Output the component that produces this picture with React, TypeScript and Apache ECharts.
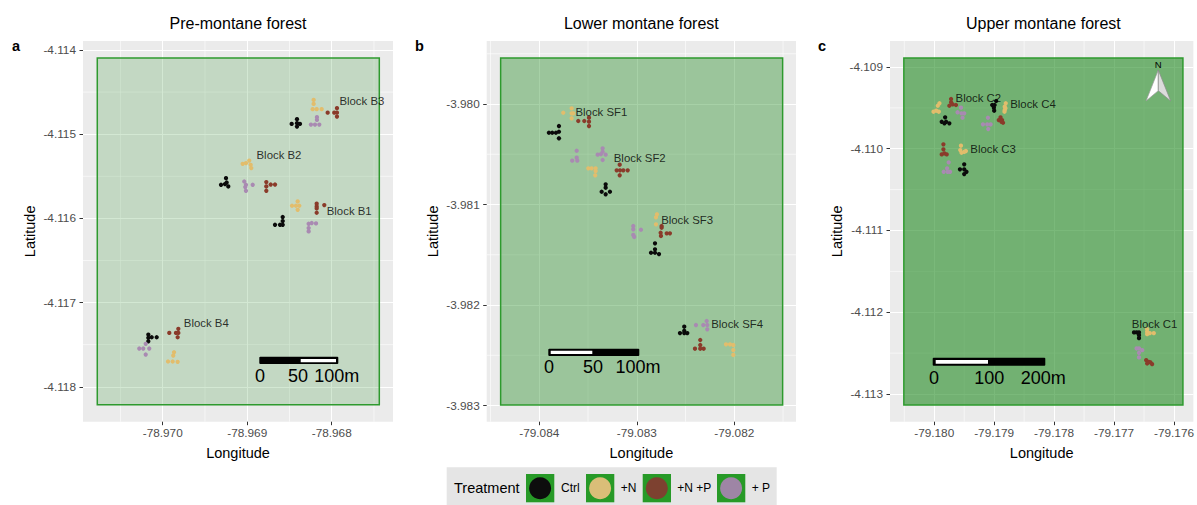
import React, { useEffect, useRef } from "react";
import * as echarts from "echarts";

const FONT = "Liberation Sans";
const treatmentNames = ["Ctrl", "+N", "+N +P", "+ P"];
const pointColors = ["#0a0a0a", "#e2bd6c", "#8a3b2a", "#a98ab2"];
const legendColors = ["#0d0d0d", "#dabe78", "#7d4130", "#9e85a5"];
const panelTitles = ["Pre-montane forest", "Lower montane forest", "Upper montane forest"];
const panelLetters = ["a", "b", "c"];

// Panel a
const aCtrl = [
  [-78.968474, -4.114878], [-78.968411, -4.114822], [-78.968411, -4.114869], [-78.968376, -4.114878], [-78.968411, -4.11491],
  [-78.96931, -4.115601], [-78.969263, -4.115593], [-78.969251, -4.115522], [-78.969243, -4.115574], [-78.969224, -4.115621],
  [-78.968671, -4.116076], [-78.968612, -4.116076], [-78.96858, -4.115984], [-78.96858, -4.116032], [-78.96858, -4.116076],
  [-78.97017, -4.11738], [-78.97017, -4.117419], [-78.97017, -4.11746], [-78.97013, -4.117412], [-78.970071, -4.117412],
];
const aN = [
  [-78.968214, -4.114593], [-78.968214, -4.11464], [-78.968225, -4.114703], [-78.968178, -4.114703], [-78.968119, -4.114703],
  [-78.969054, -4.115352], [-78.969015, -4.115344], [-78.968976, -4.115313], [-78.968959, -4.115364], [-78.968952, -4.115403],
  [-78.96847, -4.11585], [-78.968423, -4.11585], [-78.968403, -4.115799], [-78.968384, -4.11585], [-78.968403, -4.115898],
  [-78.969866, -4.11759], [-78.969875, -4.117629], [-78.969937, -4.1177], [-78.969882, -4.1177], [-78.969823, -4.117704],
];
const aNP = [
  [-78.968048, -4.114744], [-78.96797, -4.114744], [-78.967938, -4.114691], [-78.967938, -4.114744], [-78.967938, -4.114791],
  [-78.968774, -4.115569], [-78.968774, -4.115621], [-78.968774, -4.115672], [-78.968722, -4.115598], [-78.968671, -4.115598],
  [-78.968178, -4.115826], [-78.968178, -4.115858], [-78.968178, -4.115933], [-78.968088, -4.115842], [-78.968178, -4.115882],
  [-78.969922, -4.11736], [-78.969843, -4.11736], [-78.969815, -4.117312], [-78.969815, -4.11736], [-78.969823, -4.117412],
];
const aP = [
  [-78.968175, -4.114798], [-78.968175, -4.11483], [-78.968246, -4.114886], [-78.968198, -4.114886], [-78.968147, -4.114886],
  [-78.969035, -4.115562], [-78.969015, -4.115601], [-78.969015, -4.115672], [-78.968935, -4.115601], [-78.969023, -4.115628],
  [-78.968273, -4.116064], [-78.968273, -4.116115], [-78.968273, -4.116155], [-78.968237, -4.116055], [-78.968186, -4.11606],
  [-78.970277, -4.117546], [-78.97023, -4.117546], [-78.970201, -4.11749], [-78.970159, -4.117546], [-78.970201, -4.117617],
];
const aBlocks = [
  ["Block B3", -78.967915, -4.114601], ["Block B2", -78.968896, -4.115242],
  ["Block B1", -78.968065, -4.115918], ["Block B4", -78.969756, -4.117241],
];

// Panel b
const bCtrl = [
  [-79.083901, -3.980286], [-79.083867, -3.980286], [-79.083829, -3.980286], [-79.083798, -3.980219], [-79.083798, -3.980276], [-79.083798, -3.980341],
  [-79.083319, -3.980799], [-79.083319, -3.980833], [-79.08336, -3.980873], [-79.083319, -3.980898], [-79.083275, -3.980873],
  [-79.082813, -3.981386], [-79.082813, -3.981446], [-79.082854, -3.98148], [-79.082813, -3.98148], [-79.082772, -3.981493],
  [-79.082513, -3.982216], [-79.082513, -3.982256], [-79.082557, -3.982279], [-79.082513, -3.982279], [-79.082482, -3.982279],
];
const bN = [
  [-79.083754, -3.980087], [-79.083668, -3.980043], [-79.083668, -3.980093], [-79.083651, -3.980093], [-79.083668, -3.980142],
  [-79.083497, -3.98064], [-79.083463, -3.98064], [-79.083422, -3.98064], [-79.083422, -3.980667], [-79.083426, -3.980709],
  [-79.082793, -3.981097], [-79.082803, -3.981127], [-79.082803, -3.981197],
  [-79.082085, -3.982391], [-79.082044, -3.982391], [-79.08201, -3.982398], [-79.08201, -3.982448], [-79.08201, -3.982497],
];
const bNP = [
  [-79.0836, -3.980169], [-79.083538, -3.980169], [-79.08349, -3.980136], [-79.08349, -3.980176], [-79.08349, -3.980219],
  [-79.083175, -3.980604], [-79.083206, -3.98066], [-79.083172, -3.98066], [-79.083138, -3.98066], [-79.083093, -3.98066], [-79.083175, -3.980709],
  [-79.082745, -3.981214], [-79.082745, -3.981231], [-79.082755, -3.981281], [-79.082752, -3.981313], [-79.082693, -3.981287], [-79.08266, -3.981287],
  [-79.082349, -3.982348], [-79.082349, -3.982398], [-79.082403, -3.982435], [-79.082349, -3.982435], [-79.082314, -3.982435],
];
const bP = [
  [-79.08335, -3.980441], [-79.08335, -3.980475], [-79.083401, -3.980504], [-79.083367, -3.980498], [-79.083319, -3.980504], [-79.08335, -3.980557],
  [-79.083616, -3.980465], [-79.083616, -3.980534], [-79.08361, -3.980564], [-79.083662, -3.980564],
  [-79.083036, -3.981214], [-79.083036, -3.981247], [-79.083036, -3.981303], [-79.083026, -3.981323], [-79.082957, -3.981251],
  [-79.082393, -3.982199], [-79.082318, -3.982199], [-79.082283, -3.982159], [-79.082277, -3.982199], [-79.082277, -3.982242],
];
const bBlocks = [
  ["Block SF1", -79.083634, -3.98008], ["Block SF2", -79.083241, -3.980534],
  ["Block SF3", -79.082755, -3.981154], ["Block SF4", -79.082242, -3.982192],
];

// Panel c
const cCtrl = [
  [-79.179818, -4.109616], [-79.179875, -4.10967], [-79.17983, -4.109689], [-79.179802, -4.10967], [-79.179748, -4.109689],
  [-79.178967, -4.109416], [-79.179033, -4.109465], [-79.178993, -4.109465], [-79.179005, -4.109498], [-79.179, -4.109535],
  [-79.1795, -4.110191], [-79.179571, -4.110252], [-79.1795, -4.110252], [-79.179462, -4.110282], [-79.1795, -4.11031],
  [-79.176667, -4.112247], [-79.176624, -4.112247], [-79.176584, -4.112247], [-79.176584, -4.11228], [-79.176584, -4.112317],
];
const cN = [
  [-79.179913, -4.109444], [-79.179941, -4.109474], [-79.180012, -4.109547], [-79.179967, -4.109535], [-79.179924, -4.109547],
  [-79.178807, -4.109444], [-79.178824, -4.109486], [-79.178824, -4.109526], [-79.178828, -4.109547], [-79.178812, -4.109506],
  [-79.179554, -4.109963], [-79.179566, -4.110016], [-79.179545, -4.110049], [-79.1795, -4.110037], [-79.179472, -4.110028],
  [-79.176448, -4.112207], [-79.176448, -4.11224], [-79.176448, -4.112268], [-79.176403, -4.112256], [-79.176337, -4.112256],
];
const cNP = [
  [-79.179719, -4.109392], [-79.179719, -4.109432], [-79.179748, -4.109474], [-79.179693, -4.109457], [-79.179637, -4.109465],
  [-79.178894, -4.109616], [-79.178923, -4.109649], [-79.178868, -4.109649], [-79.178852, -4.109682], [-79.178878, -4.10967],
  [-79.179847, -4.109946], [-79.179847, -4.110007], [-79.179875, -4.110069], [-79.17983, -4.110056], [-79.179792, -4.110069],
  [-79.176464, -4.112586], [-79.176419, -4.112607], [-79.176393, -4.112614], [-79.176448, -4.112627], [-79.176365, -4.112635],
];
const cP = [
  [-79.179554, -4.109498], [-79.179611, -4.109554], [-79.179545, -4.109567], [-79.1795, -4.109567], [-79.179528, -4.109621],
  [-79.179104, -4.109621], [-79.179187, -4.109701], [-79.179116, -4.109701], [-79.179059, -4.109701], [-79.179099, -4.109759],
  [-79.179759, -4.110166], [-79.179785, -4.11024], [-79.179842, -4.110282], [-79.179776, -4.110282], [-79.179736, -4.110282],
  [-79.176624, -4.112443], [-79.176584, -4.112443], [-79.17653, -4.112464], [-79.176584, -4.112497], [-79.176584, -4.112553],
];
const cBlocks = [
  ["Block C2", -79.179653, -4.109376], ["Block C4", -79.178741, -4.109453],
  ["Block C3", -79.179406, -4.110007], ["Block C1", -79.176712, -4.112149],
];

// Axis ticks and extents
const aLonTicks = [-78.97, -78.969, -78.968];
const aLatTicks = [-4.114, -4.115, -4.116, -4.117, -4.118];
const aLonMinor = [-78.9705, -78.9695, -78.9685, -78.9675];
const aLatMinor = [-4.1145, -4.1155, -4.1165, -4.1175];
const bLonTicks = [-79.084, -79.083, -79.082];
const bLatTicks = [-3.98, -3.981, -3.982, -3.983];
const bLonMinor = [-79.0845, -79.0835, -79.0825, -79.0815];
const bLatMinor = [-3.9795, -3.9805, -3.9815, -3.9825];
const cLonTicks = [-79.18, -79.179, -79.178, -79.177, -79.176];
const cLatTicks = [-4.109, -4.11, -4.111, -4.112, -4.113];
const cLonMinor = [-79.1805, -79.1795, -79.1785, -79.1775, -79.1765];
const cLatMinor = [-4.1095, -4.1105, -4.1115, -4.1125];

const aExtent = [-78.970943, -78.967275, -4.118415, -4.113893];
const bExtent = [-79.084539, -79.081367, -3.983161, -3.979373];
const cExtent = [-79.180738, -79.175677, -4.113339, -4.108682];
const aPlot = [-78.970774, -4.114095, -78.967437, -4.118214];
const bPlot = [-79.084396, -3.979542, -79.081504, -3.982995];
const cPlot = [-79.180507, -4.10889, -79.175851, -4.113135];
const plotAlpha = [0.2, 0.4, 0.6];

const gridBoxes = [
  { left: 83, top: 41, width: 310, height: 380.7 },
  { left: 486.7, top: 41, width: 309.3, height: 380.7 },
  { left: 890, top: 41, width: 306.7, height: 380.7 },
];

const panels = [
  { ext: aExtent, plot: aPlot, lonT: aLonTicks, latT: aLatTicks, lonM: aLonMinor, latM: aLatMinor, pts: [aCtrl, aN, aNP, aP], blocks: aBlocks },
  { ext: bExtent, plot: bPlot, lonT: bLonTicks, latT: bLatTicks, lonM: bLonMinor, latM: bLatMinor, pts: [bCtrl, bN, bNP, bP], blocks: bBlocks },
  { ext: cExtent, plot: cPlot, lonT: cLonTicks, latT: cLatTicks, lonM: cLonMinor, latM: cLatMinor, pts: [cCtrl, cN, cNP, cP], blocks: cBlocks },
];

// Scale bars: [outer x, y, w, h, inner x, y, w, h]
const scaleBars = [
  { outer: [259.3, 356.7, 79, 7.3], inner: [300.7, 359, 35.3, 3.3], labels: [["0", 260], ["50", 298], ["100m", 336.7]], y: 376 },
  { outer: [548.3, 348.7, 91, 7.3], inner: [550.7, 350.7, 41.6, 3.3], labels: [["0", 549], ["50", 593], ["100m", 638]], y: 367 },
  { outer: [932.7, 357.7, 112.6, 8], inner: [935.7, 360, 52.3, 3.7], labels: [["0", 934], ["100", 989.3], ["200m", 1043.3]], y: 377.7 },
];

const legendLabelX = [561, 620.7, 677.3, 751.7];
const legendKeyX = [526, 586, 642.7, 717];

function segmentRender(params: any, api: any) {
  const p = api.coord([api.value(0), api.value(1)]);
  const q = api.coord([api.value(2), api.value(3)]);
  return {
    type: "line",
    shape: { x1: p[0], y1: p[1], x2: q[0], y2: q[1] },
    style: { stroke: "#ffffff", lineWidth: 0.6 },
    silent: true,
  };
}

function rectRender(alpha: number) {
  return (params: any, api: any) => {
    const p = api.coord([api.value(0), api.value(1)]);
    const q = api.coord([api.value(2), api.value(3)]);
    return {
      type: "rect",
      shape: { x: p[0], y: p[1], width: q[0] - p[0], height: q[1] - p[1] },
      style: { fill: `rgba(34,139,34,${alpha})`, stroke: "#2e9a2e", lineWidth: 1.5 },
      silent: true,
    };
  };
}

function buildOption() {
  const grid: any[] = [];
  const xAxis: any[] = [];
  const yAxis: any[] = [];
  const series: any[] = [];
  const title: any[] = [];
  const axisCommon = {
    type: "value",
    axisLine: { show: false },
    splitLine: { show: true, lineStyle: { color: "#ffffff", width: 1 } },
    minorSplitLine: { show: false },
    nameLocation: "middle",
    nameTextStyle: { fontFamily: FONT, fontSize: 14.5, color: "#000" },
  };
  panels.forEach((pn, i) => {
    const box = gridBoxes[i];
    grid.push({ ...box, show: true, backgroundColor: "#EBEBEB", borderWidth: 0, containLabel: false });
    const label = (vals: number[], margin: number) => ({
      customValues: vals,
      margin,
      fontFamily: FONT,
      fontSize: 11.8,
      color: "#4D4D4D",
      formatter: (v: number) => v.toFixed(3),
    });
    const tick = (vals: number[]) => ({
      show: true,
      customValues: vals,
      length: 3.5,
      lineStyle: { color: "#333333", width: 1 },
    });
    xAxis.push({
      ...axisCommon,
      gridIndex: i,
      min: pn.ext[0],
      max: pn.ext[1],
      name: "Longitude",
      nameGap: 24,
      axisTick: tick(pn.lonT),
      axisLabel: label(pn.lonT, 5.5),
    });
    yAxis.push({
      ...axisCommon,
      gridIndex: i,
      min: pn.ext[2],
      max: pn.ext[3],
      name: "Latitude",
      nameGap: 46,
      axisTick: tick(pn.latT),
      axisLabel: label(pn.latT, 7),
    });
    const segs = [
      ...pn.lonM.map((v) => [v, pn.ext[2], v, pn.ext[3]]),
      ...pn.latM.map((v) => [pn.ext[0], v, pn.ext[1], v]),
    ];
    series.push({
      type: "custom", xAxisIndex: i, yAxisIndex: i, data: segs, renderItem: segmentRender,
      encode: { x: [0, 2], y: [1, 3] }, clip: false, z: 1, silent: true, tooltip: { show: false },
    });
    series.push({
      type: "custom", xAxisIndex: i, yAxisIndex: i, data: [pn.plot], renderItem: rectRender(plotAlpha[i]),
      encode: { x: [0, 2], y: [1, 3] }, clip: false, z: 2, silent: true,
    });
    pn.pts.forEach((d, k) => {
      series.push({
        name: treatmentNames[k], type: "scatter", xAxisIndex: i, yAxisIndex: i, data: d,
        symbolSize: 4.3, itemStyle: { color: pointColors[k], opacity: 1 }, z: 3, silent: true,
      });
    });
    series.push({
      type: "scatter", xAxisIndex: i, yAxisIndex: i,
      data: pn.blocks.map((b) => ({ value: [b[1], b[2]], name: b[0] })),
      symbolSize: 1,
      itemStyle: { color: "transparent" },
      z: 4,
      silent: true,
      label: {
        show: true, position: "right", distance: 0, formatter: "{b}",
        fontFamily: FONT, fontSize: 11.4, color: "#000",
        textBorderColor: "transparent", textBorderWidth: 0,
      },
    });
    title.push({
      text: panelTitles[i],
      left: box.left + box.width / 2 - 5,
      top: 10,
      textAlign: "center",
      textStyle: { fontFamily: FONT, fontSize: 16, fontWeight: "normal", color: "#000" },
    });
  });

  const graphic: any[] = [];
  const txt = (text: string, x: number, y: number, size: number, align = "center", weight = "normal", fill = "#000") => ({
    type: "text", x, y, silent: true,
    style: { text, fontFamily: FONT, fontSize: size, fontWeight: weight, fill, textAlign: align, textVerticalAlign: "middle" },
    z: 10,
  });
  [12, 415, 818].forEach((x, i) => graphic.push(txt(panelLetters[i], x, 46, 14.5, "left", "bold")));
  scaleBars.forEach((s) => {
    graphic.push({ type: "rect", shape: { x: s.outer[0], y: s.outer[1], width: s.outer[2], height: s.outer[3], r: 1 }, style: { fill: "#000" }, z: 10, silent: true });
    graphic.push({ type: "rect", shape: { x: s.inner[0], y: s.inner[1], width: s.inner[2], height: s.inner[3] }, style: { fill: "#fff" }, z: 10, silent: true });
    s.labels.forEach((l) => graphic.push(txt(l[0] as string, l[1] as number, s.y, 18)));
  });
  // North arrow
  graphic.push({ type: "polygon", shape: { points: [[1158.3, 70], [1146, 101], [1158.3, 90.7]] }, style: { fill: "#ffffff", stroke: "#9a9a9a", lineWidth: 0.7 }, z: 10, silent: true });
  graphic.push({ type: "polygon", shape: { points: [[1158.3, 70], [1170.7, 101], [1158.3, 90.7]] }, style: { fill: "#dcdcdc", stroke: "#8a8a8a", lineWidth: 0.7 }, z: 10, silent: true });
  graphic.push(txt("N", 1158.3, 64, 9.5));
  // Legend
  graphic.push({ type: "rect", shape: { x: 446.7, y: 467.3, width: 330, height: 38 }, style: { fill: "#E5E5E5" }, z: 10, silent: true });
  graphic.push(txt("Treatment", 454, 488, 14.5, "left"));
  treatmentNames.forEach((t, k) => {
    const kx = legendKeyX[k];
    graphic.push({ type: "rect", shape: { x: kx, y: 474, width: 28.3, height: 28.3 }, style: { fill: "#279a27" }, z: 11, silent: true });
    graphic.push({ type: "circle", shape: { cx: kx + 14.1, cy: 488.2, r: 11 }, style: { fill: legendColors[k] }, z: 12, silent: true });
    graphic.push({ ...txt(t, legendLabelX[k], 488, 12, "left"), z: 12 });
  });

  return { animation: false, backgroundColor: "#fff", title, grid, xAxis, yAxis, series, graphic };
}

export default function App() {
  const ref = useRef<HTMLDivElement>(null);
  useEffect(() => {
    document.body.style.margin = "0";
    const chart = echarts.init(ref.current!, undefined, { renderer: "svg" });
    chart.setOption(buildOption() as any);
    return () => chart.dispose();
  }, []);
  return <div ref={ref} style={{ width: 1197, height: 505 }} />;
}
